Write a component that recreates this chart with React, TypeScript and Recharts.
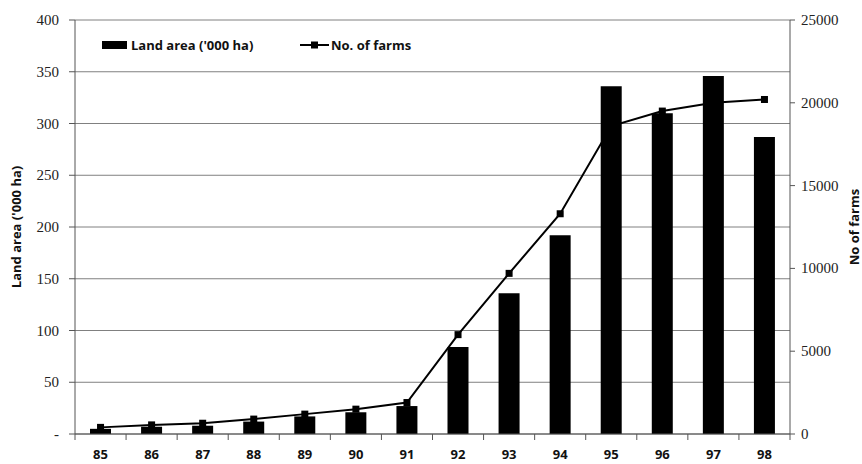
import React from 'react';
import {
  ComposedChart,
  Bar,
  Line,
  XAxis,
  YAxis,
  CartesianGrid,
  Legend,
} from 'recharts';

const years = ['85', '86', '87', '88', '89', '90', '91', '92', '93', '94', '95', '96', '97', '98'];
const landArea = [5, 7, 8, 12, 17, 21, 27, 84, 136, 192, 336, 310, 346, 287];
const farms = [400, 550, 650, 900, 1200, 1500, 1900, 6000, 9700, 13300, 18600, 19500, 20000, 20200];
const leftTicks = [0, 50, 100, 150, 200, 250, 300, 350, 400];
const rightTicks = [0, 5000, 10000, 15000, 20000, 25000];

const data = years.map((year, i) => ({ year, land: landArea[i], farms: farms[i] }));

const serif = '"Liberation Serif", "DejaVu Serif", serif';
const sans = '"Open Sans", sans-serif';
const axisGrey = '#555555';

// category labels with Excel-style tick marks sitting between categories
const YearTick = (props: any) => {
  const { x, y, payload, index, width, visibleTicksCount } = props;
  const half = width / visibleTicksCount / 2;
  const last = index === visibleTicksCount - 1;
  return (
    <g>
      <line x1={x - half} x2={x - half} y1={y} y2={y + 6} stroke={axisGrey} />
      {last && <line x1={x + half} x2={x + half} y1={y} y2={y + 6} stroke={axisGrey} />}
      <text x={x} y={y + 25} textAnchor="middle" fontFamily={sans} fontWeight={700} fontSize={13} fill="#111">
        {payload.value}
      </text>
    </g>
  );
};

// serif numbers on both value axes; zero shows as a dash on the left one
const ValueTick = (props: any) => {
  const { x, y, payload, textAnchor, dashZero } = props;
  const label = dashZero && payload.value === 0 ? '-' : String(payload.value);
  return (
    <text x={x} y={y} dy={5} textAnchor={textAnchor} style={{ fontFamily: serif }} fontSize={15} fill="#222">
      {label}
    </text>
  );
};

const SquareDot = (props: any) => {
  const { cx, cy, index } = props;
  return <rect key={index} x={cx - 3.5} y={cy - 3.5} width={7} height={7} fill="#000" />;
};

const LegendBox = () => (
  <svg width={340} height={16} style={{ display: 'block' }}>
    <rect x={0} y={4} width={25} height={8} fill="#000" />
    <text x={29} y={12.5} fontFamily={sans} fontWeight={700} fontSize={13} fill="#111">
      Land area ('000 ha)
    </text>
    <line x1={198} x2={227} y1={8} y2={8} stroke="#000" strokeWidth={2} />
    <rect x={209} y={4.5} width={7} height={7} fill="#000" />
    <text x={229} y={12.5} fontFamily={sans} fontWeight={700} fontSize={13} fill="#111">
      No. of farms
    </text>
  </svg>
);

export default function App() {
  return (
    <div style={{ position: 'absolute', left: 0, top: 0, background: '#fff' }}>
      <ComposedChart
        width={862}
        height={464}
        data={data}
        margin={{ top: 20, right: 0, left: 0, bottom: 0 }}
      >
        <CartesianGrid yAxisId="left" vertical={false} stroke="#808080" />
        <XAxis
          dataKey="year"
          height={30}
          tickLine={false}
          tickSize={0}
          tickMargin={0}
          stroke={axisGrey}
          tick={<YearTick />}
          interval={0}
        />
        <YAxis
          yAxisId="left"
          width={75}
          domain={[0, 400]}
          ticks={leftTicks}
          stroke={axisGrey}
          tickSize={6}
          tickMargin={10}
          tick={<ValueTick dashZero />}
          label={{
            value: "Land area ('000 ha)",
            angle: -90,
            position: 'insideLeft',
            offset: 16,
            style: { fontFamily: sans, fontWeight: 700, fontSize: 13, fill: '#111', textAnchor: 'middle' },
          }}
        />
        <YAxis
          yAxisId="right"
          orientation="right"
          width={72}
          domain={[0, 25000]}
          ticks={rightTicks}
          stroke={axisGrey}
          tickSize={5}
          tickMargin={6}
          tick={<ValueTick />}
          label={{
            value: 'No of farms',
            angle: -90,
            position: 'insideRight',
            offset: 8,
            style: { fontFamily: sans, fontWeight: 700, fontSize: 13, fill: '#111', textAnchor: 'middle' },
          }}
        />
        <Legend
          verticalAlign="middle"
          align="center"
          content={() => <LegendBox />}
          wrapperStyle={{ top: 37, left: 102, width: 340 }}
        />
        <Line
          yAxisId="right"
          dataKey="farms"
          name="No. of farms"
          stroke="#000"
          strokeWidth={2}
          dot={<SquareDot />}
          activeDot={false}
          zIndex={250}
          isAnimationActive={false}
        />
        <Bar
          yAxisId="left"
          dataKey="land"
          name="Land area ('000 ha)"
          fill="#000"
          barSize={21}
          zIndex={300}
          isAnimationActive={false}
        />
      </ComposedChart>
    </div>
  );
}
